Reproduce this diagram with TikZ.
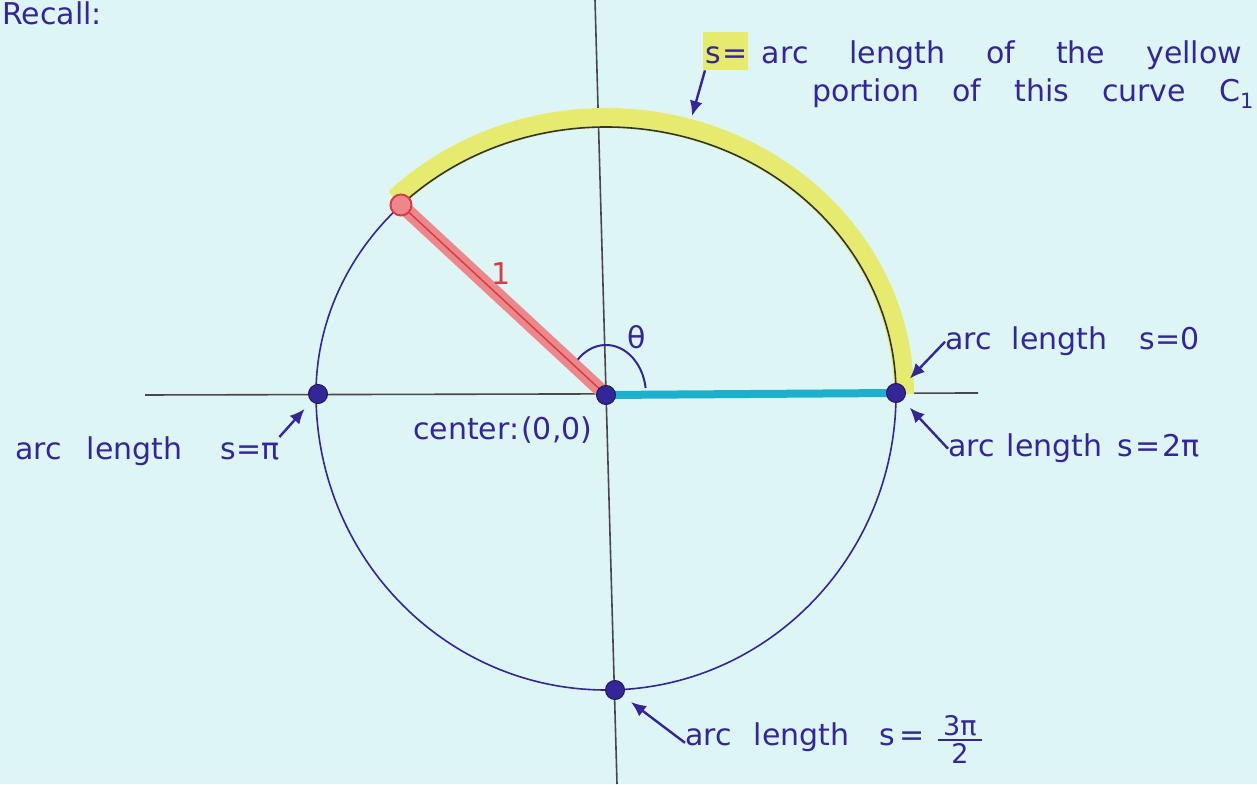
\documentclass[tikz,border=0pt]{standalone}
\usepackage{fontspec}
\setmainfont{DejaVu Sans}
\usetikzlibrary{arrows.meta,backgrounds}
\definecolor{paper}{RGB}{222,245,245}
\definecolor{pen}{RGB}{52,38,152}
\definecolor{axisgray}{RGB}{72,72,72}
\definecolor{hilite}{RGB}{230,235,112}
\definecolor{cyanline}{RGB}{28,176,204}
\definecolor{redline}{RGB}{236,136,140}
\definecolor{redpen}{RGB}{214,62,70}
\newcommand{\gp}[1]{\hspace{#1pt}}

\begin{document}
\begin{tikzpicture}[x=1pt, y=1pt,
        lbl/.style={text=pen, font=\fontsize{30}{36}\selectfont, inner sep=0pt},
        dot/.style={circle, fill=pen, draw=pen!60!black, line width=1pt, inner sep=0pt, minimum size=19pt},
        reddot/.style={circle, fill=redline, draw=redpen, line width=2pt, inner sep=0pt, minimum size=21pt},
        axis/.style={axisgray, line width=1.6pt},
        arrow/.style={-{Latex[length=15pt,width=13pt]}, pen, line width=2.4pt, shorten >=10pt}
    ]
        \useasboundingbox (0,0) rectangle (1257,784);

        \node[dot]    (O) at (606,389) {};
        \node[dot]    (R) at (896,391) {};
        \node[dot]    (L) at (318,390) {};
        \node[dot]    (B) at (615,94)  {};
        \node[reddot] (P) at (401,579) {};
        \coordinate (arctip) at (692,668);

        \node[lbl, anchor=north west] (recall) at (2,782) {Recall:};
        \node[lbl, anchor=base west] (top1) at (705,720) {s\gp{2}=\gp{14}arc\gp{41}length\gp{41}of\gp{41}the\gp{41}yellow};
        \node[lbl, anchor=base west] (top2) at (812,682) {portion\gp{33}of\gp{33}this\gp{33}curve\gp{33}C\textsubscript{1}};
        \node[lbl, anchor=base west] (s0)   at (945,434) {arc\gp{20}length\gp{32}s=0};
        \node[lbl, anchor=base west] (s2pi) at (948,327) {arc\gp{12}length\gp{15}s\gp{2}=\gp{2}2π};
        \node[lbl, anchor=base west] (spi)  at (15,324)  {arc\gp{25}length\gp{38}s=π};
        \node[lbl, anchor=base west] (ctr)  at (413,344) {center:\gp{2}(0,0)};
        \node[lbl, anchor=base west] (s3pi) at (685,39)  {arc\gp{22}length\gp{30}s\gp{4}=\gp{14}\raisebox{10pt}{\fontsize{27}{31}\selectfont\setlength{\arrayrulewidth}{2pt}\begin{tabular}[t]{@{\gp{5}}c@{\gp{5}}}3π\\[-5pt]\hline 2\end{tabular}}};
        \node[lbl] (th)  at (637,447) {θ};
        \node[lbl, text=redpen] (one) at (501,510) {1};

        \draw[arrow, shorten >=0pt] (top1.south west) -- (arctip);
        \draw[arrow] (s0.west) -- (R);
        \draw[arrow] (s2pi.west) -- (R);
        \draw[arrow] (spi.north east) -- (L);
        \draw[arrow] (s3pi.west) -- (B);

        \begin{scope}[on background layer]
            \fill[paper] (0,0) rectangle (1257,784);
            \fill[hilite] (703,714) rectangle (748,752);
            \draw[axis] (145,389) -- (978,391);
            \draw[axis] (595,784) -- (617,0);
            \draw[hilite, line width=20pt] (606,390) ++(135:298 and 276) arc[start angle=135, end angle=0, x radius=298, y radius=276];
            \draw[pen, line width=1.6pt] (896,390) arc[start angle=0, end angle=-180, x radius=290, y radius=296] arc[start angle=180, end angle=135, x radius=290, y radius=267];
            \draw[black!80, line width=1.6pt] (606,390) ++(135:290 and 267) arc[start angle=135, end angle=0, x radius=290, y radius=267];
            \draw[cyanline, line width=8pt] (O.center) -- (R.center);
            \draw[redline, line width=14pt] (O.center) -- (P.center);
            \draw[redpen, line width=1.5pt] (O.center) -- (P.center);
            \draw[pen, line width=2pt] (O.center) ++(8:40 and 50) arc[start angle=8, end angle=135, x radius=40, y radius=50];
        \end{scope}
    \end{tikzpicture}
\end{document}
